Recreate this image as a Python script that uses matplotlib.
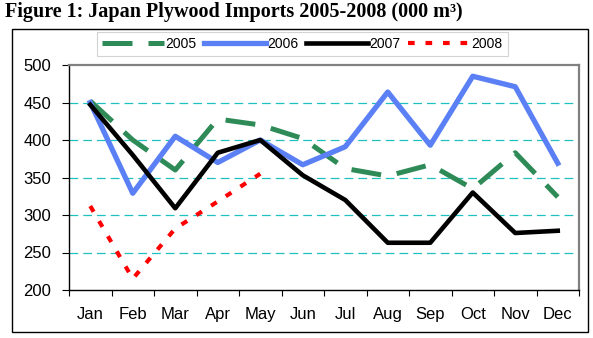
import matplotlib.pyplot as plt
import numpy as np
from matplotlib.patches import Rectangle

months = ["Jan", "Feb", "Mar", "Apr", "May", "Jun",
          "Jul", "Aug", "Sep", "Oct", "Nov", "Dec"]
y2005 = [452, 400, 360, 428, 420, 402, 362, 352, 367, 335, 383, 324]
y2006 = [450, 329, 405, 370, 400, 367, 391, 464, 393, 485, 471, 369]
y2007 = [447, 380, 309, 383, 400, 353, 320, 263, 263, 330, 276, 279]
y2008 = [312, 215, 282, 318, 355]

W, H = 593, 338
fig = plt.figure(figsize=(W / 100, H / 100), dpi=100)
plt.rcParams['font.family'] = ['Liberation Sans', 'DejaVu Sans']

# outer frame around the chart
fig.patches.append(Rectangle((12 / W, 1 - 332 / H), 576 / W, 303 / H,
                             transform=fig.transFigure, fill=False,
                             edgecolor="black", linewidth=1.0))

fig.text(5 / W, 1 - 2 / H, "Figure 1: Japan Plywood Imports 2005-2008 (000 m³)",
         family=["Liberation Serif", "DejaVu Serif"], fontweight="bold",
         fontsize=14.5, ha="left", va="top")

ax = fig.add_axes([69 / W, 1 - 290 / H, 510 / W, 225 / H])

x = np.arange(len(months))
l5, = ax.plot(x, y2005, color="#2E8B57", linewidth=3.6, dashes=(6, 3.2),
              label="2005")
l6, = ax.plot(x, y2006, color="#5B80F5", linewidth=3.8, label="2006")
l7, = ax.plot(x, y2007, color="black", linewidth=3.3, label="2007")
l8, = ax.plot(x[:len(y2008)], y2008, color="red", linewidth=3.0,
              dashes=(1.6, 2.6), label="2008")

ax.set_xlim(-0.5, 11.5)
ax.set_ylim(200, 500)
ax.set_yticks(np.arange(200, 501, 50))
for v in range(250, 500, 50):
    ax.axhline(v, color="#20C0C0", linewidth=0.9, dashes=(7, 4), zorder=0)

ax.set_xticks(np.arange(-0.5, 12, 1))
ax.set_xticklabels([])
ax.set_xticks(x, minor=True)
ax.set_xticklabels(months, minor=True)
ax.tick_params(axis="x", which="major", length=4, direction="out")
ax.tick_params(axis="x", which="minor", length=0, pad=12, labelsize=12)
ax.tick_params(axis="y", length=5, direction="out", labelsize=12, pad=8)

for s in ["top", "right"]:
    ax.spines[s].set_color("#808080")
    ax.spines[s].set_linewidth(1.6)
for s in ["left", "bottom"]:
    ax.spines[s].set_color("black")
    ax.spines[s].set_linewidth(1.0)

leg = fig.legend(handles=[l5, l6, l7, l8], loc="upper left",
                 bbox_to_anchor=(97 / W, 1 - 32 / H), ncol=4, fontsize=10,
                 handlelength=4.5, handletextpad=0.1, columnspacing=0.5,
                 frameon=True, fancybox=False, borderpad=0.35,
                 borderaxespad=0)
leg.get_frame().set_edgecolor("#C8C8C8")
leg.get_frame().set_linewidth(0.8)

fig.savefig("out.png", dpi=100)
